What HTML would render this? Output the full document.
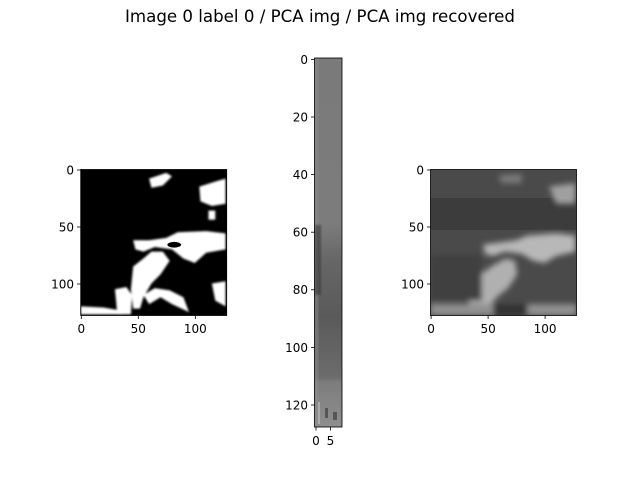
<!DOCTYPE html>
<html><head><meta charset="utf-8"><style>
body{margin:0;background:#fff;}
svg{font-family:"DejaVu Sans","Liberation Sans",sans-serif;}
</style></head><body>
<svg width="640" height="480" viewBox="0 0 640 480">
<defs>
<filter id="b1"><feGaussianBlur stdDeviation="2.5"/></filter>
<filter id="b2"><feGaussianBlur stdDeviation="1"/></filter>
<linearGradient id="mid" x1="0" y1="0" x2="0" y2="1">
<stop offset="0" stop-color="#7a7a7a"/><stop offset="0.45" stop-color="#7c7c7c"/>
<stop offset="0.55" stop-color="#666"/><stop offset="0.7" stop-color="#5a5a5a"/>
<stop offset="0.85" stop-color="#6a6a6a"/><stop offset="1" stop-color="#8a8a8a"/></linearGradient>
<clipPath id="c1"><rect x="0" y="0" width="128" height="128"/></clipPath>
</defs>
<text x="320" y="22" text-anchor="middle" font-size="16.6" textLength="390" lengthAdjust="spacingAndGlyphs">Image 0 label 0 / PCA img / PCA img recovered</text>

<g transform="translate(80.7,169.5) scale(1.1406)">
<g clip-path="url(#c1)">
<rect width="128" height="128" fill="#000"/>
<g fill="#fff" filter="url(#b2)">
<polygon points="46,62 60,62 75,60 85,55 110,54 127,56 127,70 110,73 100,82 90,78 80,70 65,68 55,72 48,70"/>
<polygon points="46,85 55,78 62,72 72,72 78,80 70,92 62,100 55,112 52,122 46,122 44,105"/>
<polygon points="55,110 65,104 78,106 90,112 95,125 80,118 70,112 60,118"/>
<polygon points="0,120 20,121 37,124 37,127 0,127"/>
<polygon points="30,105 40,103 45,110 44,127 32,127 31,115"/>
<polygon points="104,15 120,10 127,8 127,30 115,32 105,28"/>
<polygon points="60,8 75,3 80,6 72,14 62,16"/>
<polygon points="115,100 127,98 127,120 118,115"/>
<rect x="112" y="36" width="6" height="8"/>
</g>
<ellipse cx="82" cy="66" rx="6" ry="2.5" fill="#000"/>
</g></g>
<rect x="80.7" y="169.5" width="146" height="146" fill="none" stroke="#000" stroke-width="0.8"/>

<g>
<rect x="314.5" y="58" width="27.5" height="369" fill="url(#mid)"/>
<rect x="314.5" y="58" width="4" height="369" fill="#8a8a8a" opacity="0.5"/>
<rect x="315" y="225" width="6" height="70" fill="#383838" opacity="0.6" filter="url(#b2)"/>
<rect x="314.5" y="380" width="27.5" height="47" fill="#9a9a9a" opacity="0.3" filter="url(#b2)"/>
<rect x="325" y="408" width="3" height="10" fill="#333" opacity="0.6"/>
<rect x="333" y="412" width="4" height="8" fill="#333" opacity="0.6"/>
<rect x="318" y="402" width="2" height="22" fill="#bbb" opacity="0.7"/>
</g>
<rect x="314.5" y="58" width="27.5" height="369" fill="none" stroke="#000" stroke-width="0.8"/>

<g transform="translate(430.5,169.5) scale(1.1406)">
<g clip-path="url(#c1)">
<rect width="128" height="128" fill="#4a4a4a"/>
<rect x="0" y="25" width="128" height="28" fill="#3c3c3c"/>
<g filter="url(#b1)">
<polygon points="46,66 60,64 75,62 85,58 110,56 127,58 127,72 110,76 100,82 90,80 80,74 65,72 55,76 48,74" fill="#b8b8b8"/>
<polygon points="40,95 55,84 66,78 74,80 76,92 68,104 58,112 50,122 34,120 33,108" fill="#b0b0b0"/>
<polygon points="104,15 127,12 127,30 110,30" fill="#a0a0a0"/>
<polygon points="60,5 80,4 80,12 62,12" fill="#7a7a7a"/>
<rect x="0" y="118" width="128" height="10" fill="#909090"/>
<rect x="55" y="118" width="30" height="10" fill="#333"/>
<rect x="0" y="75" width="45" height="40" fill="#3f3f3f"/>
</g>
</g></g>
<rect x="430.5" y="169.5" width="146" height="146" fill="none" stroke="#000" stroke-width="0.8"/>

<g stroke="#000" stroke-width="0.8">
<line x1="81.3" y1="315.5" x2="81.3" y2="319"/><line x1="138.3" y1="315.5" x2="138.3" y2="319"/><line x1="195.3" y1="315.5" x2="195.3" y2="319"/>
<line x1="77" y1="170" x2="80.7" y2="170"/><line x1="77" y1="227" x2="80.7" y2="227"/><line x1="77" y1="284" x2="80.7" y2="284"/>
<line x1="431.1" y1="315.5" x2="431.1" y2="319"/><line x1="488.1" y1="315.5" x2="488.1" y2="319"/><line x1="545.1" y1="315.5" x2="545.1" y2="319"/>
<line x1="427" y1="170" x2="430.5" y2="170"/><line x1="427" y1="227" x2="430.5" y2="227"/><line x1="427" y1="284" x2="430.5" y2="284"/>
<line x1="316" y1="427" x2="316" y2="430.5"/><line x1="330.4" y1="427" x2="330.4" y2="430.5"/>
<line x1="311" y1="59.4" x2="314.5" y2="59.4"/><line x1="311" y1="117" x2="314.5" y2="117"/><line x1="311" y1="174.6" x2="314.5" y2="174.6"/><line x1="311" y1="232.2" x2="314.5" y2="232.2"/><line x1="311" y1="289.8" x2="314.5" y2="289.8"/><line x1="311" y1="347.4" x2="314.5" y2="347.4"/><line x1="311" y1="405" x2="314.5" y2="405"/>
</g>
<g font-size="12" fill="#000">
<g text-anchor="middle">
<text x="81.3" y="333">0</text><text x="138.3" y="333">50</text><text x="195.3" y="333">100</text>
<text x="431.1" y="333">0</text><text x="488.1" y="333">50</text><text x="545.1" y="333">100</text>
<text x="316" y="445">0</text><text x="330.4" y="445">5</text>
</g>
<g text-anchor="end">
<text x="74" y="174.5">0</text><text x="74" y="231.5">50</text><text x="74" y="288.5">100</text>
<text x="424" y="174.5">0</text><text x="424" y="231.5">50</text><text x="424" y="288.5">100</text>
<text x="308" y="64">0</text><text x="308" y="121.5">20</text><text x="308" y="179">40</text><text x="308" y="236.5">60</text><text x="308" y="294">80</text><text x="308" y="352">100</text><text x="308" y="409.5">120</text>
</g></g>
</svg>
</body></html>
